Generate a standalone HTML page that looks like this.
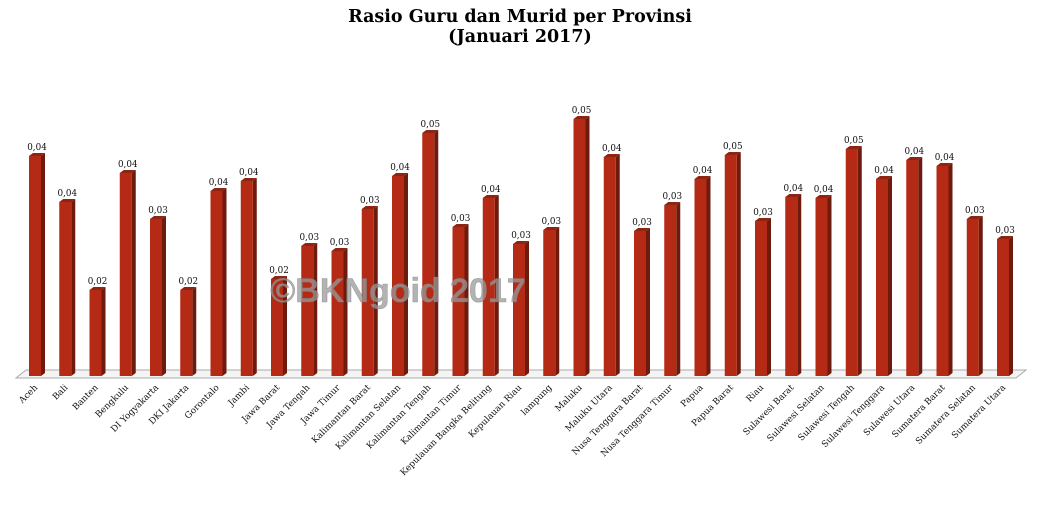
<!DOCTYPE html>
<html><head><meta charset="utf-8"><style>
html,body{margin:0;padding:0;background:#fff;}
svg{display:block;}
.s{fill:#6e1a0c}.t{fill:#8e2412}.f{fill:#b52a15}
.v{text-anchor:middle}.n{text-anchor:end}
</style></head><body>
<svg width="1041" height="509" viewBox="0 0 1041 509" xmlns="http://www.w3.org/2000/svg">
<text x="520" y="22" text-anchor="middle" font-family="DejaVu Serif,serif" font-weight="bold" font-size="17.5">Rasio Guru dan Murid per Provinsi</text>
<text x="520" y="42" text-anchor="middle" font-family="DejaVu Serif,serif" font-weight="bold" font-size="17.5">(Januari 2017)</text>
<polygon points="16,378 1016,378 1026,370 26,370" fill="#f4f4f4" stroke="#aaa" stroke-width="1"/>
<g font-family="DejaVu Serif,serif" font-size="8.8" fill="#111">
<g transform="translate(29,0)"><polygon class="s" points="12,156 16,153 16,373 12,376"/><polygon class="t" points="0,156 4,153 16,153 12,156"/><rect class="f" x="0" y="156" width="12" height="220"/><text class="v" x="8" y="150">0,04</text><text class="n" transform="translate(9,388) rotate(-45)">Aceh</text></g>
<g transform="translate(59.25,0)"><polygon class="s" points="12,202 16,199 16,373 12,376"/><polygon class="t" points="0,202 4,199 16,199 12,202"/><rect class="f" x="0" y="202" width="12" height="174"/><text class="v" x="8" y="196">0,04</text><text class="n" transform="translate(9,388) rotate(-45)">Bali</text></g>
<g transform="translate(89.5,0)"><polygon class="s" points="12,290 16,287 16,373 12,376"/><polygon class="t" points="0,290 4,287 16,287 12,290"/><rect class="f" x="0" y="290" width="12" height="86"/><text class="v" x="8" y="284">0,02</text><text class="n" transform="translate(9,388) rotate(-45)">Banten</text></g>
<g transform="translate(119.75,0)"><polygon class="s" points="12,173 16,170 16,373 12,376"/><polygon class="t" points="0,173 4,170 16,170 12,173"/><rect class="f" x="0" y="173" width="12" height="203"/><text class="v" x="8" y="167">0,04</text><text class="n" transform="translate(9,388) rotate(-45)">Bengkulu</text></g>
<g transform="translate(150,0)"><polygon class="s" points="12,219 16,216 16,373 12,376"/><polygon class="t" points="0,219 4,216 16,216 12,219"/><rect class="f" x="0" y="219" width="12" height="157"/><text class="v" x="8" y="213">0,03</text><text class="n" transform="translate(9,388) rotate(-45)">DI Yogyakarta</text></g>
<g transform="translate(180.25,0)"><polygon class="s" points="12,290 16,287 16,373 12,376"/><polygon class="t" points="0,290 4,287 16,287 12,290"/><rect class="f" x="0" y="290" width="12" height="86"/><text class="v" x="8" y="284">0,02</text><text class="n" transform="translate(9,388) rotate(-45)">DKI Jakarta</text></g>
<g transform="translate(210.5,0)"><polygon class="s" points="12,191 16,188 16,373 12,376"/><polygon class="t" points="0,191 4,188 16,188 12,191"/><rect class="f" x="0" y="191" width="12" height="185"/><text class="v" x="8" y="185">0,04</text><text class="n" transform="translate(9,388) rotate(-45)">Gorontalo</text></g>
<g transform="translate(240.75,0)"><polygon class="s" points="12,181 16,178 16,373 12,376"/><polygon class="t" points="0,181 4,178 16,178 12,181"/><rect class="f" x="0" y="181" width="12" height="195"/><text class="v" x="8" y="175">0,04</text><text class="n" transform="translate(9,388) rotate(-45)">Jambi</text></g>
<g transform="translate(271,0)"><polygon class="s" points="12,279 16,276 16,373 12,376"/><polygon class="t" points="0,279 4,276 16,276 12,279"/><rect class="f" x="0" y="279" width="12" height="97"/><text class="v" x="8" y="273">0,02</text><text class="n" transform="translate(9,388) rotate(-45)">Jawa Barat</text></g>
<g transform="translate(301.25,0)"><polygon class="s" points="12,246 16,243 16,373 12,376"/><polygon class="t" points="0,246 4,243 16,243 12,246"/><rect class="f" x="0" y="246" width="12" height="130"/><text class="v" x="8" y="240">0,03</text><text class="n" transform="translate(9,388) rotate(-45)">Jawa Tengah</text></g>
<g transform="translate(331.5,0)"><polygon class="s" points="12,251 16,248 16,373 12,376"/><polygon class="t" points="0,251 4,248 16,248 12,251"/><rect class="f" x="0" y="251" width="12" height="125"/><text class="v" x="8" y="245">0,03</text><text class="n" transform="translate(9,388) rotate(-45)">Jawa Timur</text></g>
<g transform="translate(361.75,0)"><polygon class="s" points="12,209 16,206 16,373 12,376"/><polygon class="t" points="0,209 4,206 16,206 12,209"/><rect class="f" x="0" y="209" width="12" height="167"/><text class="v" x="8" y="203">0,03</text><text class="n" transform="translate(9,388) rotate(-45)">Kalimantan Barat</text></g>
<g transform="translate(392,0)"><polygon class="s" points="12,176 16,173 16,373 12,376"/><polygon class="t" points="0,176 4,173 16,173 12,176"/><rect class="f" x="0" y="176" width="12" height="200"/><text class="v" x="8" y="170">0,04</text><text class="n" transform="translate(9,388) rotate(-45)">Kalimantan Selatan</text></g>
<g transform="translate(422.25,0)"><polygon class="s" points="12,133 16,130 16,373 12,376"/><polygon class="t" points="0,133 4,130 16,130 12,133"/><rect class="f" x="0" y="133" width="12" height="243"/><text class="v" x="8" y="127">0,05</text><text class="n" transform="translate(9,388) rotate(-45)">Kalimantan Tengah</text></g>
<g transform="translate(452.5,0)"><polygon class="s" points="12,227 16,224 16,373 12,376"/><polygon class="t" points="0,227 4,224 16,224 12,227"/><rect class="f" x="0" y="227" width="12" height="149"/><text class="v" x="8" y="221">0,03</text><text class="n" transform="translate(9,388) rotate(-45)">Kalimantan Timur</text></g>
<g transform="translate(482.75,0)"><polygon class="s" points="12,198 16,195 16,373 12,376"/><polygon class="t" points="0,198 4,195 16,195 12,198"/><rect class="f" x="0" y="198" width="12" height="178"/><text class="v" x="8" y="192">0,04</text><text class="n" transform="translate(9,388) rotate(-45)">Kepulauan Bangka Belitung</text></g>
<g transform="translate(513,0)"><polygon class="s" points="12,244 16,241 16,373 12,376"/><polygon class="t" points="0,244 4,241 16,241 12,244"/><rect class="f" x="0" y="244" width="12" height="132"/><text class="v" x="8" y="238">0,03</text><text class="n" transform="translate(9,388) rotate(-45)">Kepulauan Riau</text></g>
<g transform="translate(543.25,0)"><polygon class="s" points="12,230 16,227 16,373 12,376"/><polygon class="t" points="0,230 4,227 16,227 12,230"/><rect class="f" x="0" y="230" width="12" height="146"/><text class="v" x="8" y="224">0,03</text><text class="n" transform="translate(9,388) rotate(-45)">lampung</text></g>
<g transform="translate(573.5,0)"><polygon class="s" points="12,119 16,116 16,373 12,376"/><polygon class="t" points="0,119 4,116 16,116 12,119"/><rect class="f" x="0" y="119" width="12" height="257"/><text class="v" x="8" y="113">0,05</text><text class="n" transform="translate(9,388) rotate(-45)">Maluku</text></g>
<g transform="translate(603.75,0)"><polygon class="s" points="12,157 16,154 16,373 12,376"/><polygon class="t" points="0,157 4,154 16,154 12,157"/><rect class="f" x="0" y="157" width="12" height="219"/><text class="v" x="8" y="151">0,04</text><text class="n" transform="translate(9,388) rotate(-45)">Maluku Utara</text></g>
<g transform="translate(634,0)"><polygon class="s" points="12,231 16,228 16,373 12,376"/><polygon class="t" points="0,231 4,228 16,228 12,231"/><rect class="f" x="0" y="231" width="12" height="145"/><text class="v" x="8" y="225">0,03</text><text class="n" transform="translate(9,388) rotate(-45)">Nusa Tenggara Barat</text></g>
<g transform="translate(664.25,0)"><polygon class="s" points="12,205 16,202 16,373 12,376"/><polygon class="t" points="0,205 4,202 16,202 12,205"/><rect class="f" x="0" y="205" width="12" height="171"/><text class="v" x="8" y="199">0,03</text><text class="n" transform="translate(9,388) rotate(-45)">Nusa Tenggara Timur</text></g>
<g transform="translate(694.5,0)"><polygon class="s" points="12,179 16,176 16,373 12,376"/><polygon class="t" points="0,179 4,176 16,176 12,179"/><rect class="f" x="0" y="179" width="12" height="197"/><text class="v" x="8" y="173">0,04</text><text class="n" transform="translate(9,388) rotate(-45)">Papua</text></g>
<g transform="translate(724.75,0)"><polygon class="s" points="12,155 16,152 16,373 12,376"/><polygon class="t" points="0,155 4,152 16,152 12,155"/><rect class="f" x="0" y="155" width="12" height="221"/><text class="v" x="8" y="149">0,05</text><text class="n" transform="translate(9,388) rotate(-45)">Papua Barat</text></g>
<g transform="translate(755,0)"><polygon class="s" points="12,221 16,218 16,373 12,376"/><polygon class="t" points="0,221 4,218 16,218 12,221"/><rect class="f" x="0" y="221" width="12" height="155"/><text class="v" x="8" y="215">0,03</text><text class="n" transform="translate(9,388) rotate(-45)">Riau</text></g>
<g transform="translate(785.25,0)"><polygon class="s" points="12,197 16,194 16,373 12,376"/><polygon class="t" points="0,197 4,194 16,194 12,197"/><rect class="f" x="0" y="197" width="12" height="179"/><text class="v" x="8" y="191">0,04</text><text class="n" transform="translate(9,388) rotate(-45)">Sulawesi Barat</text></g>
<g transform="translate(815.5,0)"><polygon class="s" points="12,198 16,195 16,373 12,376"/><polygon class="t" points="0,198 4,195 16,195 12,198"/><rect class="f" x="0" y="198" width="12" height="178"/><text class="v" x="8" y="192">0,04</text><text class="n" transform="translate(9,388) rotate(-45)">Sulawesi Selatan</text></g>
<g transform="translate(845.75,0)"><polygon class="s" points="12,149 16,146 16,373 12,376"/><polygon class="t" points="0,149 4,146 16,146 12,149"/><rect class="f" x="0" y="149" width="12" height="227"/><text class="v" x="8" y="143">0,05</text><text class="n" transform="translate(9,388) rotate(-45)">Sulawesi Tengah</text></g>
<g transform="translate(876,0)"><polygon class="s" points="12,179 16,176 16,373 12,376"/><polygon class="t" points="0,179 4,176 16,176 12,179"/><rect class="f" x="0" y="179" width="12" height="197"/><text class="v" x="8" y="173">0,04</text><text class="n" transform="translate(9,388) rotate(-45)">Sulawesi Tenggara</text></g>
<g transform="translate(906.25,0)"><polygon class="s" points="12,160 16,157 16,373 12,376"/><polygon class="t" points="0,160 4,157 16,157 12,160"/><rect class="f" x="0" y="160" width="12" height="216"/><text class="v" x="8" y="154">0,04</text><text class="n" transform="translate(9,388) rotate(-45)">Sulawesi Utara</text></g>
<g transform="translate(936.5,0)"><polygon class="s" points="12,166 16,163 16,373 12,376"/><polygon class="t" points="0,166 4,163 16,163 12,166"/><rect class="f" x="0" y="166" width="12" height="210"/><text class="v" x="8" y="160">0,04</text><text class="n" transform="translate(9,388) rotate(-45)">Sumatera Barat</text></g>
<g transform="translate(966.75,0)"><polygon class="s" points="12,219 16,216 16,373 12,376"/><polygon class="t" points="0,219 4,216 16,216 12,219"/><rect class="f" x="0" y="219" width="12" height="157"/><text class="v" x="8" y="213">0,03</text><text class="n" transform="translate(9,388) rotate(-45)">Sumatera Selatan</text></g>
<g transform="translate(997,0)"><polygon class="s" points="12,239 16,236 16,373 12,376"/><polygon class="t" points="0,239 4,236 16,236 12,239"/><rect class="f" x="0" y="239" width="12" height="137"/><text class="v" x="8" y="233">0,03</text><text class="n" transform="translate(9,388) rotate(-45)">Sumatera Utara</text></g>
</g>
<text x="398" y="302" text-anchor="middle" font-family="Liberation Sans,sans-serif" font-weight="bold" font-size="34" fill="#999" fill-opacity="0.75" stroke="#777" stroke-width="0.6" stroke-opacity="0.6">©BKNgoid 2017</text>
</svg>
</body></html>
